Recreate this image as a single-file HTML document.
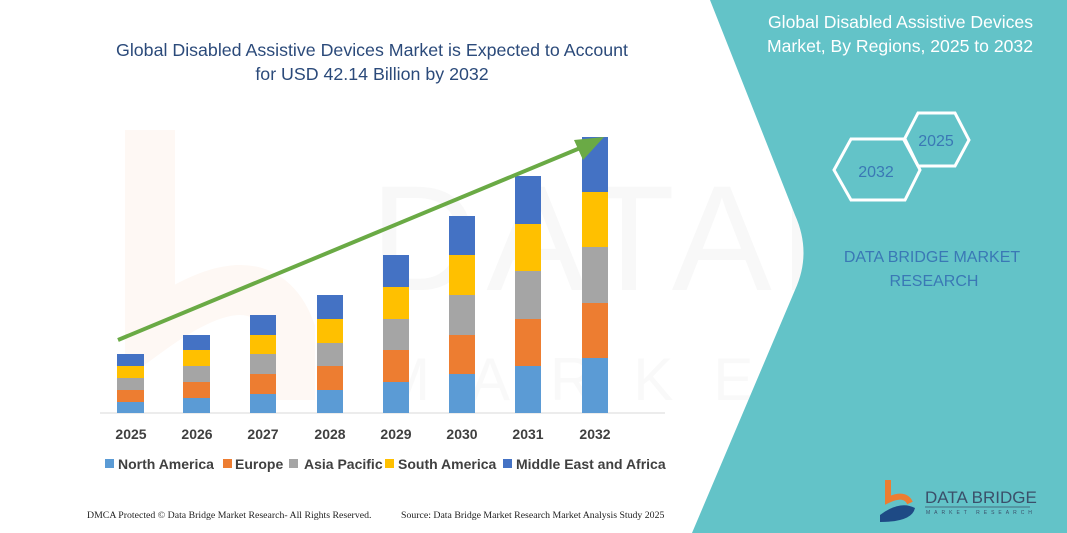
<!DOCTYPE html>
<html><head><meta charset="utf-8"><style>
html,body{margin:0;padding:0;background:#fff;}
svg{display:block;font-family:"Liberation Sans",sans-serif;}
</style></head><body>
<svg width="1067" height="533" viewBox="0 0 1067 533" xmlns="http://www.w3.org/2000/svg">
<rect width="1067" height="533" fill="#fff"/>
<!-- faint watermark -->
<text x="370" y="290" font-size="150" fill="#f8f8f8" letter-spacing="8">DATABRIDGE</text>
<text x="380" y="400" font-size="60" fill="#f9f9f9" letter-spacing="40">MARKETRESEARCH</text>
<path d="M150 130 L150 330 Q260 250 290 330 L290 400" fill="none" stroke="#fef8f4" stroke-width="50"/>
<!-- teal panel -->
<path d="M710 0 L1067 0 L1067 533 L692 533 L795 290 Q812 253 795 215 Z" fill="#63c3c8"/>
<text x="1033" y="28" font-size="17.6" fill="#fff" text-anchor="end">Global Disabled Assistive Devices</text>
<text x="1033" y="52" font-size="17.6" fill="#fff" text-anchor="end">Market, By Regions, 2025 to 2032</text>
<polygon points="904,140 918,113 955,113 969,140 955,166 918,166" fill="none" stroke="#fff" stroke-width="3"/>
<polygon points="834,170 851,139 905,139 920,170 905,200 851,200" fill="none" stroke="#fff" stroke-width="3"/>
<text x="936" y="146" font-size="16" fill="#3a78b5" text-anchor="middle">2025</text>
<text x="876" y="177" font-size="16" fill="#3a78b5" text-anchor="middle">2032</text>
<text x="932" y="262" font-size="16" fill="#3a78b5" text-anchor="middle">DATA BRIDGE MARKET</text>
<text x="934" y="286" font-size="16" fill="#3a78b5" text-anchor="middle">RESEARCH</text>
<!-- logo -->
<path d="M888 480 L888 500 Q905 492 910 503" fill="none" stroke="#ee7d31" stroke-width="6"/>
<path d="M880 515 Q900 500 915 508 Q912 522 880 522 Z" fill="#1e4a85"/>
<text x="925" y="503" font-size="17" fill="#3b4f6a">DATA BRIDGE</text>
<line x1="925" y1="507" x2="1030" y2="507" stroke="#3b4f6a" stroke-width="0.7"/>
<text x="926" y="514" font-size="5" fill="#3b4f6a" letter-spacing="4">MARKET RESEARCH</text>
<!-- title -->
<text x="372" y="56" font-size="17.8" fill="#2b4a7a" text-anchor="middle">Global Disabled Assistive Devices Market is Expected to Account</text>
<text x="372" y="80" font-size="17.8" fill="#2b4a7a" text-anchor="middle">for USD 42.14 Billion by 2032</text>
<!-- baseline -->
<line x1="100" y1="413" x2="665" y2="413" stroke="#d9d9d9" stroke-width="1"/>
<g id="bars">
<rect x="117" y="354" width="27" height="12" fill="#4472c4"/><rect x="117" y="366" width="27" height="12" fill="#ffc000"/><rect x="117" y="378" width="27" height="12" fill="#a5a5a5"/><rect x="117" y="390" width="27" height="12" fill="#ed7d31"/><rect x="117" y="402" width="27" height="11" fill="#5b9bd5"/>
<rect x="183" y="335" width="27" height="15" fill="#4472c4"/><rect x="183" y="350" width="27" height="16" fill="#ffc000"/><rect x="183" y="366" width="27" height="16" fill="#a5a5a5"/><rect x="183" y="382" width="27" height="16" fill="#ed7d31"/><rect x="183" y="398" width="27" height="15" fill="#5b9bd5"/>
<rect x="250" y="315" width="26" height="20" fill="#4472c4"/><rect x="250" y="335" width="26" height="19" fill="#ffc000"/><rect x="250" y="354" width="26" height="20" fill="#a5a5a5"/><rect x="250" y="374" width="26" height="20" fill="#ed7d31"/><rect x="250" y="394" width="26" height="19" fill="#5b9bd5"/>
<rect x="317" y="295" width="26" height="24" fill="#4472c4"/><rect x="317" y="319" width="26" height="24" fill="#ffc000"/><rect x="317" y="343" width="26" height="23" fill="#a5a5a5"/><rect x="317" y="366" width="26" height="24" fill="#ed7d31"/><rect x="317" y="390" width="26" height="23" fill="#5b9bd5"/>
<rect x="383" y="255" width="26" height="32" fill="#4472c4"/><rect x="383" y="287" width="26" height="32" fill="#ffc000"/><rect x="383" y="319" width="26" height="31" fill="#a5a5a5"/><rect x="383" y="350" width="26" height="32" fill="#ed7d31"/><rect x="383" y="382" width="26" height="31" fill="#5b9bd5"/>
<rect x="449" y="216" width="26" height="39" fill="#4472c4"/><rect x="449" y="255" width="26" height="40" fill="#ffc000"/><rect x="449" y="295" width="26" height="40" fill="#a5a5a5"/><rect x="449" y="335" width="26" height="39" fill="#ed7d31"/><rect x="449" y="374" width="26" height="39" fill="#5b9bd5"/>
<rect x="515" y="176" width="26" height="48" fill="#4472c4"/><rect x="515" y="224" width="26" height="47" fill="#ffc000"/><rect x="515" y="271" width="26" height="48" fill="#a5a5a5"/><rect x="515" y="319" width="26" height="47" fill="#ed7d31"/><rect x="515" y="366" width="26" height="47" fill="#5b9bd5"/>
<rect x="582" y="137" width="26" height="55" fill="#4472c4"/><rect x="582" y="192" width="26" height="55" fill="#ffc000"/><rect x="582" y="247" width="26" height="56" fill="#a5a5a5"/><rect x="582" y="303" width="26" height="55" fill="#ed7d31"/><rect x="582" y="358" width="26" height="55" fill="#5b9bd5"/>
</g>
<!-- arrow -->
<line x1="118" y1="340" x2="585" y2="146" stroke="#6aaa45" stroke-width="4"/>
<polygon points="604,137 574,140 583,160" fill="#6aaa45"/>
<g font-size="14" font-weight="bold" fill="#404040" text-anchor="middle">
<text x="131" y="439">2025</text><text x="197" y="439">2026</text><text x="263" y="439">2027</text><text x="330" y="439">2028</text><text x="396" y="439">2029</text><text x="462" y="439">2030</text><text x="528" y="439">2031</text><text x="595" y="439">2032</text>
</g>
<g font-size="14" font-weight="bold" fill="#404040">
<rect x="105" y="459" width="9" height="9" fill="#5b9bd5"/><text x="118" y="469">North America</text>
<rect x="223" y="459" width="9" height="9" fill="#ed7d31"/><text x="235" y="469">Europe</text>
<rect x="289" y="459" width="9" height="9" fill="#a5a5a5"/><text x="304" y="469">Asia Pacific</text>
<rect x="385" y="459" width="9" height="9" fill="#ffc000"/><text x="398" y="469">South America</text>
<rect x="503" y="459" width="9" height="9" fill="#4472c4"/><text x="516" y="469">Middle East and Africa</text>
</g>
<g font-family="Liberation Serif,serif" font-size="9.8" fill="#222">
<text x="87" y="518">DMCA Protected © Data Bridge Market Research-  All Rights Reserved.</text>
<text x="401" y="518">Source:  Data Bridge Market Research  Market Analysis Study 2025</text>
</g>
</svg>
</body></html>
